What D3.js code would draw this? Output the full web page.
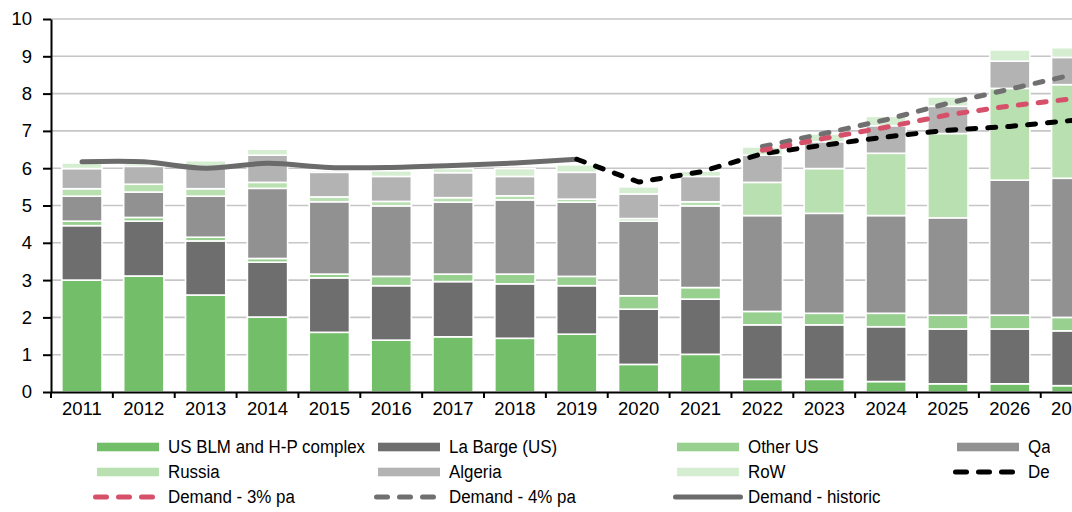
<!DOCTYPE html>
<html><head><meta charset="utf-8">
<script src="https://cdn.jsdelivr.net/npm/d3@7"></script>
<style>
html,body{margin:0;padding:0;overflow:hidden;background:#fff;width:1072px;height:512px}
svg{display:block;font-family:"Liberation Sans",Arial,sans-serif}
</style>
</head><body><div id="chart"></div>
<script>
// ---------- data ----------
const years = ["2011","2012","2013","2014","2015","2016","2017","2018","2019","2020","2021","2022","2023","2024","2025","2026","2027"];
const usBlm   = [3.00,3.11,2.60,2.01,1.60,1.39,1.48,1.44,1.55,0.74,1.01,0.34,0.34,0.28,0.22,0.22,0.17];
const laBarge = [1.46,1.47,1.45,1.47,1.46,1.46,1.48,1.46,1.30,1.48,1.48,1.46,1.46,1.47,1.47,1.47,1.47];
const otherUs = [0.12,0.10,0.10,0.10,0.10,0.25,0.20,0.26,0.25,0.36,0.31,0.36,0.31,0.36,0.37,0.37,0.36];
const qatar   = [0.67,0.68,1.10,1.88,1.94,1.89,1.93,1.99,1.99,2.00,2.19,2.57,2.68,2.62,2.61,3.62,3.73];
const russia  = [0.20,0.21,0.20,0.16,0.13,0.12,0.12,0.11,0.08,0.07,0.11,0.89,1.20,1.67,2.26,2.46,2.51];
const algeria = [0.54,0.48,0.55,0.73,0.66,0.67,0.67,0.52,0.72,0.66,0.68,0.73,0.72,0.74,0.73,0.73,0.73];
const rowW    = [0.15,0.07,0.20,0.16,0.05,0.15,0.11,0.21,0.20,0.19,0.14,0.22,0.21,0.25,0.25,0.30,0.26];

const histYears = ["2011","2012","2013","2014","2015","2016","2017","2018","2019"];
const demandHistoric = [6.17,6.17,6.00,6.13,6.02,6.02,6.07,6.14,6.24];
const d2Years = ["2019","2020","2021","2022","2023","2024","2025","2026","2027"];
const demand2 = [6.24,5.63,5.90,6.39,6.62,6.84,7.02,7.12,7.28];
const fcYears = ["2022","2023","2024","2025","2026","2027"];
const demand3 = [6.48,6.80,7.10,7.43,7.67,7.86];
const demand4 = [6.58,6.93,7.30,7.74,8.12,8.50];

const yTicks = [0,1,2,3,4,5,6,7,8,9,10];

const seriesNames = ["US BLM and H-P complex","La Barge (US)","Other US","Qatar","Russia","Algeria","RoW"];
const seriesValues = [usBlm,laBarge,otherUs,qatar,russia,algeria,rowW];
const seriesColors = ["#73bf69","#6e6e6e","#98d18f","#919191","#b9e0b1","#b3b3b3","#d5edd0"];

// ---------- layout ----------
const W = 1110, H = 512;
const svg = d3.select("#chart").append("svg").attr("width", W).attr("height", H);
const x = d3.scaleBand().domain(years).range([51, 1102.6]).paddingInner(0.35).paddingOuter(0.175);
const y = d3.scaleLinear().domain([0, 10]).range([392, 19]);

svg.append("defs").append("clipPath").attr("id", "legendClip")
  .append("rect").attr("x", 0).attr("y", 420).attr("width", 1050).attr("height", 92);

// gridlines
svg.append("g").selectAll("line").data(yTicks.filter(d => d > 0)).join("line")
  .attr("x1", 51).attr("x2", 1102.6)
  .attr("y1", d => y(d)).attr("y2", d => y(d))
  .attr("stroke", "#c6c6c6").attr("stroke-width", 1.6);

// stacked bars
const table = years.map((yr, i) => {
  const o = {year: yr};
  seriesNames.forEach((k, j) => o[k] = seriesValues[j][i]);
  return o;
});
const stacked = d3.stack().keys(seriesNames)(table);
svg.append("g").selectAll("g").data(stacked).join("g")
  .attr("fill", (d, i) => seriesColors[i])
  .selectAll("rect").data(d => d).join("rect")
  .attr("x", d => x(d.data.year))
  .attr("width", x.bandwidth())
  .attr("y", d => y(d[1]))
  .attr("height", d => y(d[0]) - y(d[1]))
  .attr("stroke", "#fff").attr("stroke-width", 1.6);

// lines
const cx = d => x(d) + x.bandwidth() / 2;
function drawLine(yrs, vals, color, dash, curve) {
  const line = d3.line().x((d, i) => cx(yrs[i])).y(d => y(d)).curve(curve || d3.curveLinear);
  svg.append("path").datum(vals).attr("d", line)
    .attr("fill", "none").attr("stroke", color).attr("stroke-width", 5)
    .attr("stroke-linecap", "round").attr("stroke-linejoin", "round")
    .attr("stroke-dasharray", dash || null);
}
drawLine(histYears, demandHistoric, "#6b6b6b", null, d3.curveCatmullRom.alpha(0.5));
drawLine(d2Years, demand2, "#000000", "8,12");
drawLine(fcYears, demand4, "#707070", "8,12");
drawLine(fcYears, demand3, "#d6506a", "8,12");

// axes
const yAxis = svg.append("g").attr("transform", "translate(51,0)")
  .call(d3.axisLeft(y).tickValues(yTicks).tickSize(8).tickSizeOuter(0).tickPadding(11));
yAxis.select(".domain").attr("stroke", "#000").attr("stroke-width", 2);
yAxis.selectAll(".tick line").attr("stroke", "#000").attr("stroke-width", 2);
yAxis.selectAll("text").attr("font-size", 18.5).attr("fill", "#000").attr("font-family", "Liberation Sans, Arial, sans-serif");

const xAxis = svg.append("g").attr("transform", "translate(0,392)")
  .call(d3.axisBottom(x).tickSize(0).tickSizeOuter(0).tickPadding(10));
xAxis.select(".domain").attr("stroke", "#000").attr("stroke-width", 2);
xAxis.selectAll("text").attr("font-size", 18.5).attr("fill", "#000").attr("font-family", "Liberation Sans, Arial, sans-serif");
const bounds = years.map(d => x(d) - x.step() * x.paddingInner() / 2).concat([x.range()[1]]);
xAxis.append("g").selectAll("line").data(bounds).join("line")
  .attr("x1", d => d).attr("x2", d => d).attr("y1", 0).attr("y2", 6)
  .attr("stroke", "#000").attr("stroke-width", 2);

// legend
const legendItems = [
  {name: "US BLM and H-P complex", type: "rect", color: seriesColors[0]},
  {name: "La Barge (US)", type: "rect", color: seriesColors[1]},
  {name: "Other US", type: "rect", color: seriesColors[2]},
  {name: "Qatar", type: "rect", color: seriesColors[3]},
  {name: "Russia", type: "rect", color: seriesColors[4]},
  {name: "Algeria", type: "rect", color: seriesColors[5]},
  {name: "RoW", type: "rect", color: seriesColors[6]},
  {name: "Demand - 2% pa", type: "dash", color: "#000000"},
  {name: "Demand - 3% pa", type: "dash", color: "#d6506a"},
  {name: "Demand - 4% pa", type: "dash", color: "#707070"},
  {name: "Demand - historic", type: "solid", color: "#6b6b6b"}
];
const colX = [97, 378, 677, 957];
const rowY = [447, 472, 497];
const lg = svg.append("g").attr("clip-path", "url(#legendClip)");
legendItems.forEach((it, i) => {
  const cxL = colX[i % 4], cyL = rowY[Math.floor(i / 4)];
  if (it.type === "rect") {
    lg.append("rect").attr("x", cxL).attr("y", cyL - 4.3).attr("width", 62).attr("height", 8.6).attr("fill", it.color);
  } else {
    lg.append("line").attr("x1", cxL - 1.5).attr("x2", it.type === "dash" ? cxL + 61.5 : cxL + 63.5)
      .attr("y1", cyL).attr("y2", cyL)
      .attr("stroke", it.color).attr("stroke-width", 5).attr("stroke-linecap", "round")
      .attr("stroke-dasharray", it.type === "dash" ? "11,12" : null);
  }
  lg.append("text").attr("transform", `translate(${cxL + 71},${cyL}) scale(0.95,1)`).attr("dy", "0.36em")
    .attr("font-size", 17.8).attr("fill", "#000").text(it.name);
});
</script>
</body></html>
